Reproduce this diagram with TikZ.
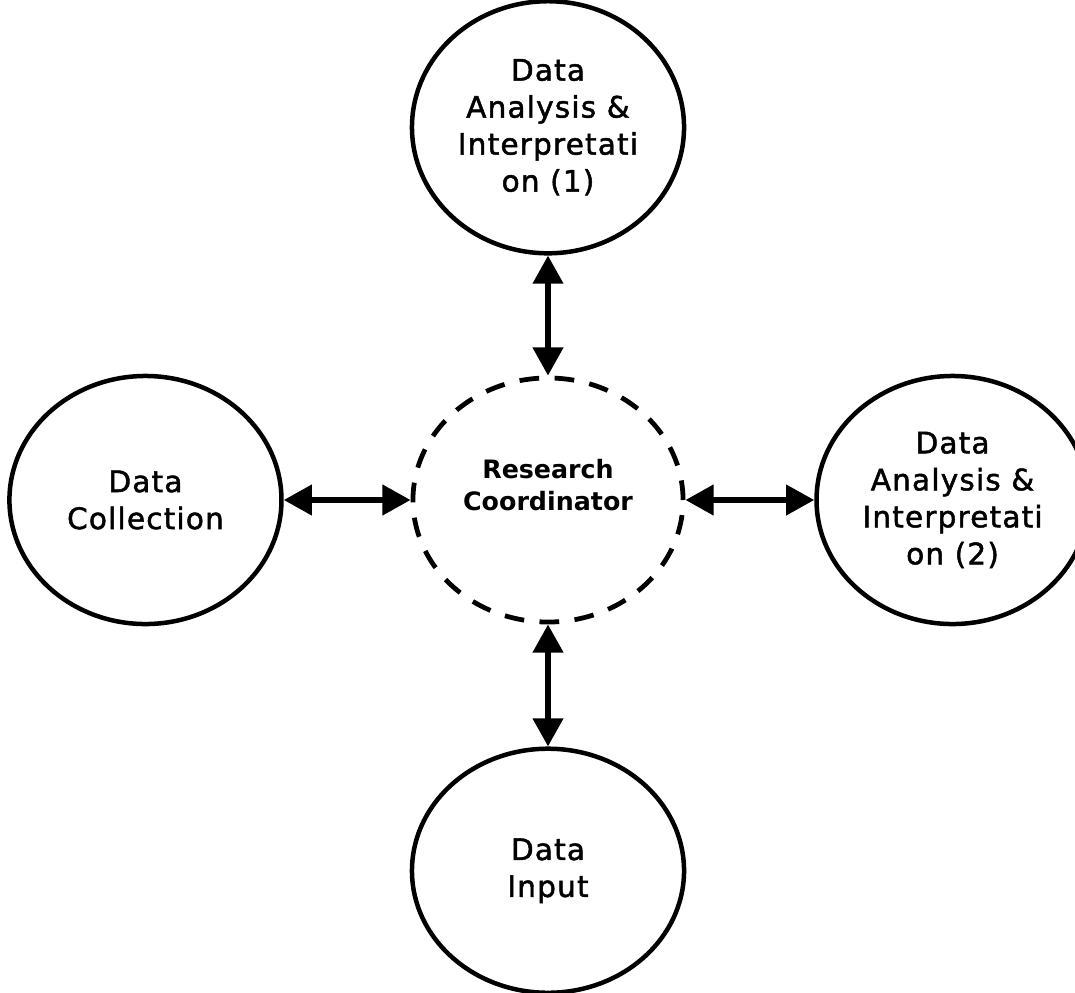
\documentclass[tikz,border=0pt]{standalone}
\usepackage{fontspec}
\setmainfont{DejaVu Sans}
\newfontfamily\bubblefont{DejaVu Sans}[LetterSpace=4, FakeBold=1.6]
\usetikzlibrary{positioning, shapes.geometric, arrows.meta}

\begin{document}
\begin{tikzpicture}[x=0.025cm, y=-0.025cm,
	bubble/.style={ellipse, draw, line width=3.2pt, minimum width=6.8cm, minimum height=6.2cm, inner sep=0pt, align=center, font=\bubblefont\fontsize{21}{26.3}\selectfont},
	hub/.style={bubble, line width=3.4pt, minimum width=6.75cm, minimum height=6.1cm, dash pattern=on 14pt off 11pt, font=\bfseries\fontsize{18}{22.8}\selectfont, text depth=21pt},
	link/.style={{Triangle[length=20pt, width=21pt]}-{Triangle[length=20pt, width=21pt]}, line width=4pt}]
	\useasboundingbox (0,0) rectangle (1075,992);

	\node[hub] (rc) at (548,500) {Research\\Coordinator};
	\node[bubble, minimum height=6.3cm, above=3cm of rc] (da1) {Data\\Analysis \&\\Interpretati\\on (1)};
	\node[bubble, left=3.17cm of rc] (dc) {Data\\Collection};
	\node[bubble, right=3.22cm of rc] (da2) {Data\\Analysis \&\\Interpretati\\on (2)};
	\node[bubble, minimum height=6.1cm, below=3.05cm of rc] (di) {Data\\Input};

	% links to the coordinator
	\draw[link] (da1) -- (rc);
	\draw[link] (dc) -- (rc);
	\draw[link] (rc) -- (da2);
	\draw[link] (rc) -- (di);
\end{tikzpicture}
\end{document}
